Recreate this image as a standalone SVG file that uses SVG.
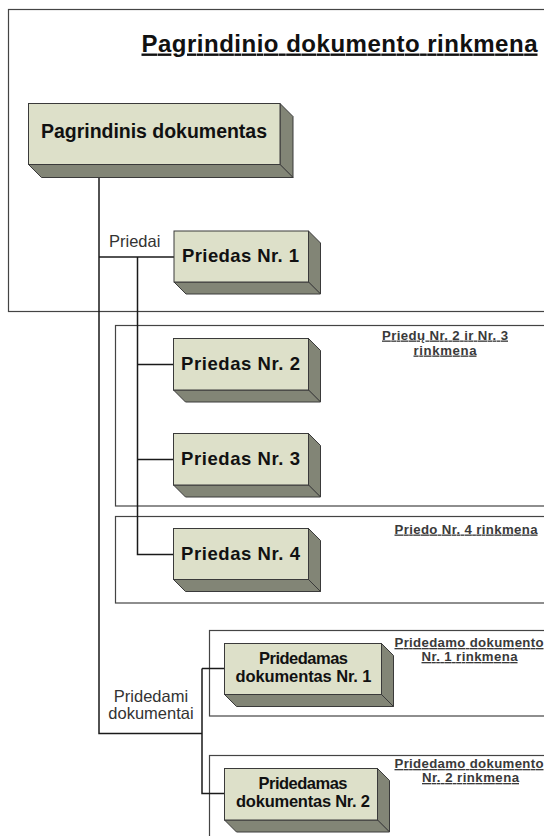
<svg xmlns="http://www.w3.org/2000/svg" width="544" height="836" viewBox="0 0 544 836">
<style>
.frame{fill:none;stroke:#444;stroke-width:1.2}
.front{fill:#dde0c9;stroke:#3a3a3a;stroke-width:1}
.side{fill:#828576;stroke:#3a3a3a;stroke-width:1;stroke-linejoin:round}
.lbl{font-family:"Liberation Sans",Arial,sans-serif;font-weight:bold;fill:#111;text-anchor:middle}
.conn{fill:none;stroke:#1a1a1a;stroke-width:1.5}
.clbl{font-family:"Liberation Sans",Arial,sans-serif;font-size:16.5px;fill:#333}
.flbl{font-family:"Liberation Sans",Arial,sans-serif;font-weight:bold;font-size:13.2px;fill:#3a3a3a;text-decoration:underline;text-anchor:middle}
</style>
<rect width="544" height="836" fill="#fff"/>
<g id="frames">
<rect class="frame" x="8.5" y="9.5" width="560" height="302"/>
<rect class="frame" x="115.5" y="325.5" width="450" height="180.5"/>
<rect class="frame" x="115.5" y="516.5" width="450" height="86.5"/>
<rect class="frame" x="209.5" y="630.5" width="360" height="85.5"/>
<rect class="frame" x="209.5" y="755.5" width="360" height="100"/>
</g>
<g id="frame-titles">
<text x="141.5" y="51.5" textLength="396" lengthAdjust="spacing" style="font-family:'Liberation Sans',Arial,sans-serif;font-weight:bold;font-size:24px;fill:#111;text-decoration:underline">Pagrindinio dokumento rinkmena</text>
<text class="flbl" x="445" y="339.5" textLength="126" lengthAdjust="spacing">Priedų Nr. 2 ir Nr. 3</text>
<text class="flbl" x="445" y="354.5" textLength="63" lengthAdjust="spacing">rinkmena</text>
<text class="flbl" x="466" y="533.5" textLength="143" lengthAdjust="spacing">Priedo Nr. 4 rinkmena</text>
<text class="flbl" x="469" y="647" textLength="149" lengthAdjust="spacing">Pridedamo dokumento</text>
<text class="flbl" x="469.5" y="661" textLength="96" lengthAdjust="spacing">Nr. 1 rinkmena</text>
<text class="flbl" x="469" y="768" textLength="149" lengthAdjust="spacing">Pridedamo dokumento</text>
<text class="flbl" x="470.5" y="782" textLength="97" lengthAdjust="spacing">Nr. 2 rinkmena</text>
</g>
<g id="connectors">
<path class="conn" d="M99,177 V733.5 H202"/>
<path class="conn" d="M99,257 H174"/>
<path class="conn" d="M137.5,257 V554.5 H173.5"/>
<path class="conn" d="M137.5,364.5 H173.5"/>
<path class="conn" d="M137.5,459.5 H173.5"/>
<path class="conn" d="M202,668.5 V793.5 H224.5"/>
<path class="conn" d="M202,668.5 H224.5"/>
<text class="clbl" x="109" y="246.5">Priedai</text>
<text class="clbl" x="151" y="701.5" text-anchor="middle">Pridedami</text>
<text class="clbl" x="151" y="718.5" text-anchor="middle">dokumentai</text>
</g>
<g id="pagrindinis">
<polygon class="side" points="280,103.5 293,116.5 293,177.5 280,164.5"/>
<polygon class="side" points="28.5,164.5 280,164.5 293,177.5 41.5,177.5"/>
<rect class="front" x="28.5" y="103.5" width="251.5" height="61"/>
<text class="lbl" x="154" y="138" font-size="19.5" textLength="226" lengthAdjust="spacing">Pagrindinis dokumentas</text>
</g>
<g id="priedas1">
<polygon class="side" points="308.5,231 320.5,243 320.5,294 308.5,282"/>
<polygon class="side" points="174,282 308.5,282 320.5,294 186,294"/>
<rect class="front" x="174" y="231" width="134.5" height="51"/>
<text class="lbl" x="240.5" y="262" font-size="18.5" textLength="117" lengthAdjust="spacing">Priedas Nr. 1</text>
</g>
<g id="priedas2">
<polygon class="side" points="308.5,338.5 320.5,350.5 320.5,402 308.5,390"/>
<polygon class="side" points="173.5,390 308.5,390 320.5,402 185.5,402"/>
<rect class="front" x="173.5" y="338.5" width="135" height="51.5"/>
<text class="lbl" x="240.5" y="369.5" font-size="18.5" textLength="119" lengthAdjust="spacing">Priedas Nr. 2</text>
</g>
<g id="priedas3">
<polygon class="side" points="308.5,433.5 320.5,445.5 320.5,497 308.5,485"/>
<polygon class="side" points="173.5,485 308.5,485 320.5,497 185.5,497"/>
<rect class="front" x="173.5" y="433.5" width="135" height="51.5"/>
<text class="lbl" x="240.5" y="464.5" font-size="18.5" textLength="119" lengthAdjust="spacing">Priedas Nr. 3</text>
</g>
<g id="priedas4">
<polygon class="side" points="308.5,528.5 320.5,540.5 320.5,591.5 308.5,579.5"/>
<polygon class="side" points="173.5,579.5 308.5,579.5 320.5,591.5 185.5,591.5"/>
<rect class="front" x="173.5" y="528.5" width="135" height="51"/>
<text class="lbl" x="240.5" y="559.5" font-size="18.5" textLength="119" lengthAdjust="spacing">Priedas Nr. 4</text>
</g>
<g id="pridedamas1">
<polygon class="side" points="381.5,643.5 393.5,655.5 393.5,706.5 381.5,694.5"/>
<polygon class="side" points="224.5,694.5 381.5,694.5 393.5,706.5 236.5,706.5"/>
<rect class="front" x="224.5" y="643.5" width="157" height="51"/>
<text class="lbl" x="303.5" y="663.5" font-size="16.5" textLength="89" lengthAdjust="spacing">Pridedamas</text>
<text class="lbl" x="303.5" y="681.5" font-size="16.5" textLength="136" lengthAdjust="spacing">dokumentas Nr. 1</text>
</g>
<g id="pridedamas2">
<polygon class="side" points="377.5,768.5 389.5,780.5 389.5,832 377.5,820"/>
<polygon class="side" points="224.5,820 377.5,820 389.5,832 236.5,832"/>
<rect class="front" x="224.5" y="768.5" width="153" height="51.5"/>
<text class="lbl" x="303" y="789" font-size="16.5" textLength="89" lengthAdjust="spacing">Pridedamas</text>
<text class="lbl" x="303" y="807" font-size="16.5" textLength="134" lengthAdjust="spacing">dokumentas Nr. 2</text>
</g>
</svg>
